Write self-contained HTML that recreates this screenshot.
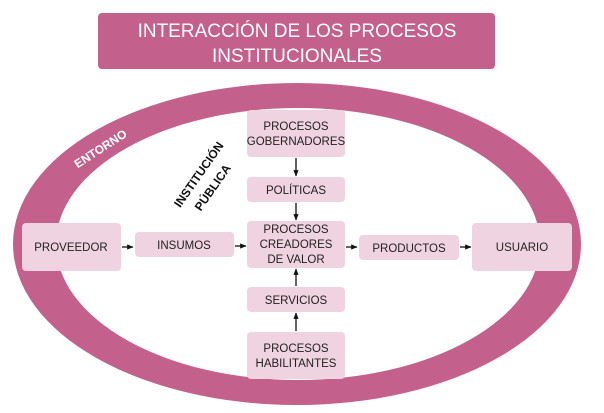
<!DOCTYPE html>
<html><head><meta charset="utf-8"><style>
body{margin:0;background:#fff;}
svg{display:block}
text{font-family:"Liberation Sans",sans-serif;}
</style></head><body>
<svg width="604" height="413" viewBox="0 0 604 413" xmlns="http://www.w3.org/2000/svg">
<defs><marker id="a" viewBox="0 0 10 10" refX="9" refY="5" markerWidth="5" markerHeight="5" orient="auto"><path d="M0,1 L10,5 L0,9z" fill="#111"/></marker></defs>
<rect x="98" y="13" width="397" height="56" rx="4" fill="#c4608c"/>
<text x="297" y="37" fill="#fff" font-size="19" text-anchor="middle">INTERACCIÓN DE LOS PROCESOS</text>
<text x="297" y="62" fill="#fff" font-size="19" text-anchor="middle">INSTITUCIONALES</text>
<ellipse cx="297" cy="244" rx="284" ry="161" fill="#c4608c"/>
<ellipse cx="298" cy="244" rx="242" ry="136" fill="#fff"/>
<text x="100" y="153" fill="#fff" font-size="12" font-weight="bold" text-anchor="middle" transform="rotate(-33 100 148)">ENTORNO</text>
<text x="198" y="179" fill="#111" font-size="12" font-weight="bold" text-anchor="middle" transform="rotate(-55 198 174)">INSTITUCIÓN</text>
<text x="212" y="192" fill="#111" font-size="12" font-weight="bold" text-anchor="middle" transform="rotate(-55 212 187)">PÚBLICA</text>
<g fill="#f0d3e0">
<rect x="247" y="110" width="98" height="47" rx="4"/>
<rect x="247" y="177" width="98" height="25" rx="4"/>
<rect x="247" y="221" width="98" height="47" rx="4"/>
<rect x="247" y="287" width="98" height="25" rx="4"/>
<rect x="247" y="332" width="98" height="47" rx="4"/>
<rect x="22" y="223" width="99" height="48" rx="4"/>
<rect x="135" y="232" width="99" height="25" rx="4"/>
<rect x="359" y="235" width="100" height="25" rx="4"/>
<rect x="472" y="223" width="100" height="48" rx="4"/>
</g>
<g fill="#222" font-size="11.5" text-anchor="middle">
<text x="296" y="130">PROCESOS</text><text x="296" y="145">GOBERNADORES</text>
<text x="296" y="194">POLÍTICAS</text>
<text x="296" y="233">PROCESOS</text><text x="296" y="248">CREADORES</text><text x="296" y="263">DE VALOR</text>
<text x="296" y="304">SERVICIOS</text>
<text x="296" y="352">PROCESOS</text><text x="296" y="367">HABILITANTES</text>
<text x="71" y="251">PROVEEDOR</text>
<text x="184" y="249">INSUMOS</text>
<text x="409" y="252">PRODUCTOS</text>
<text x="522" y="251">USUARIO</text>
</g>
<g stroke="#111" stroke-width="1.3" marker-end="url(#a)">
<line x1="296" y1="158" x2="296" y2="176"/>
<line x1="296" y1="203" x2="296" y2="220"/>
<line x1="296" y1="286" x2="296" y2="269"/>
<line x1="296" y1="331" x2="296" y2="313"/>
<line x1="122" y1="247" x2="133" y2="247"/>
<line x1="235" y1="246" x2="246" y2="246"/>
<line x1="346" y1="247" x2="357" y2="247"/>
<line x1="460" y1="247" x2="471" y2="247"/>
</g>
</svg>
</body></html>
